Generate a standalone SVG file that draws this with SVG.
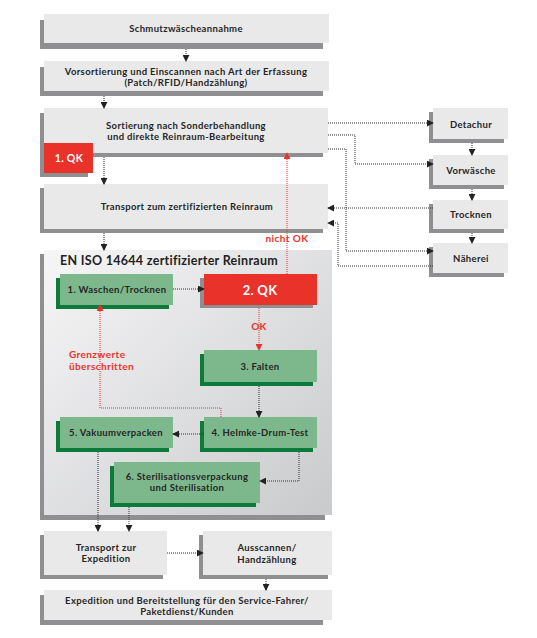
<svg xmlns="http://www.w3.org/2000/svg" width="537" height="638" viewBox="0 0 537 638">
<defs>
<style>
.bx{fill:#e9e9ea}
.sh{fill:#8f8f91}
.gn{fill:#7cb88c}
.gs{fill:#0b7a3b}
.rd{fill:#e8322a}
.t{font-family:Lato,"Liberation Sans",sans-serif;font-weight:700;font-size:9.5px;letter-spacing:0.35px;fill:#262626;text-anchor:middle}
.tw{font-family:Lato,"Liberation Sans",sans-serif;font-weight:700;fill:#fff;text-anchor:middle;letter-spacing:0.3px}
.tr{font-family:Lato,"Liberation Sans",sans-serif;font-weight:700;font-size:10px;letter-spacing:0.4px;fill:#e8322a}
.c{fill:none;stroke:#333;stroke-width:1;stroke-dasharray:1 1}
.cr{fill:none;stroke:#e8322a;stroke-width:1;stroke-dasharray:1 1}
</style>
<marker id="a" viewBox="0 0 8 8" refX="7" refY="4" markerWidth="7" markerHeight="7" markerUnits="userSpaceOnUse" orient="auto"><path d="M0,0 L8,4 L0,8 z" fill="#222"/></marker>
<marker id="ar" viewBox="0 0 8 8" refX="7" refY="4" markerWidth="7" markerHeight="7" markerUnits="userSpaceOnUse" orient="auto"><path d="M0,0 L8,4 L0,8 z" fill="#e8322a"/></marker>
<linearGradient id="g" x1="0" y1="0" x2="1" y2="1">
<stop offset="0" stop-color="#f6f6f7"/>
<stop offset="1" stop-color="#c9cacc"/>
</linearGradient>
</defs>

<g id="cleanroom">
<rect class="sh" x="40" y="254" width="285" height="266"/>
<rect x="44" y="250" width="288" height="265" fill="url(#g)"/>
<text x="60" y="265" style="font-family:Lato,'Liberation Sans',sans-serif;font-weight:700;font-size:12.5px;letter-spacing:0.3px;fill:#222">EN ISO 14644 zertifizierter Reinraum</text>
</g>

<g id="n-annahme">
<rect class="sh" x="40" y="20" width="283" height="29"/>
<rect class="bx" x="44" y="14" width="285" height="29"/>
<text class="t" x="186" y="32">Schmutzwäscheannahme</text>
</g>

<g id="n-vorsortierung">
<rect class="sh" x="40" y="67" width="283" height="29"/>
<rect class="bx" x="44" y="61" width="285" height="30"/>
<text class="t" x="186" y="74.5">Vorsortierung und Einscannen nach Art der Erfassung</text>
<text class="t" x="186" y="86">(Patch/RFID/Handzählung)</text>
</g>

<g id="n-sortierung">
<rect class="sh" x="40" y="113" width="283" height="44"/>
<rect class="bx" x="44" y="108" width="284" height="45"/>
<text class="t" x="186" y="128.5">Sortierung nach Sonderbehandlung</text>
<text class="t" x="186" y="140">und direkte Reinraum-Bearbeitung</text>
</g>

<g id="n-qk1">
<rect class="sh" x="40" y="147" width="48" height="30"/>
<rect class="rd" x="44" y="143" width="49" height="30"/>
<text class="tw" x="69" y="161.5" font-size="10.5">1. QK</text>
</g>

<g id="n-transport">
<rect class="sh" x="40" y="188" width="283" height="45"/>
<rect class="bx" x="44" y="184" width="284" height="45"/>
<text class="t" x="187" y="210">Transport zum zertifizierten Reinraum</text>
</g>

<g id="n-detachur">
<rect class="sh" x="429" y="112" width="75" height="31"/>
<rect class="bx" x="433" y="108" width="75" height="31"/>
<text class="t" x="471" y="128">Detachur</text>
</g>
<g id="n-vorwaesche">
<rect class="sh" x="429" y="159" width="75" height="30"/>
<rect class="bx" x="433" y="155" width="75" height="30"/>
<text class="t" x="471" y="174">Vorwäsche</text>
</g>
<g id="n-trocknen">
<rect class="sh" x="429" y="204" width="75" height="29"/>
<rect class="bx" x="433" y="200" width="75" height="29"/>
<text class="t" x="471" y="218">Trocknen</text>
</g>
<g id="n-naeherei">
<rect class="sh" x="429" y="247" width="75" height="30"/>
<rect class="bx" x="433" y="243" width="75" height="30"/>
<text class="t" x="471" y="262">Näherei</text>
</g>

<g id="n-waschen">
<rect class="gs" x="56" y="278" width="113" height="31"/>
<rect class="gn" x="60" y="274" width="113" height="31"/>
<text class="t" x="117" y="293">1. Waschen/Trocknen</text>
</g>
<g id="n-qk2">
<rect class="sh" x="200" y="278" width="113" height="30"/>
<rect class="rd" x="204" y="274" width="113" height="31"/>
<text class="tw" x="260" y="294.5" font-size="13">2. QK</text>
</g>
<g id="n-falten">
<rect class="gs" x="200" y="354" width="113" height="32"/>
<rect class="gn" x="204" y="350" width="113" height="32"/>
<text class="t" x="260" y="370">3. Falten</text>
</g>
<g id="n-helmke">
<rect class="gs" x="200" y="421" width="113" height="31"/>
<rect class="gn" x="204" y="417" width="113" height="31"/>
<text class="t" x="260" y="436">4. Helmke-Drum-Test</text>
</g>
<g id="n-vakuum">
<rect class="gs" x="56" y="421" width="113" height="31"/>
<rect class="gn" x="60" y="417" width="113" height="31"/>
<text class="t" x="116" y="436">5. Vakuumverpacken</text>
</g>
<g id="n-steril">
<rect class="gs" x="110" y="466" width="146" height="41"/>
<rect class="gn" x="114" y="462" width="146" height="41"/>
<text class="t" x="187" y="479.5">6. Sterilisationsverpackung</text>
<text class="t" x="187" y="491">und Sterilisation</text>
</g>

<g id="n-transport-exp">
<rect class="sh" x="40" y="535" width="123" height="44"/>
<rect class="bx" x="44" y="531" width="123" height="44"/>
<text class="t" x="106" y="550.5">Transport zur</text>
<text class="t" x="106" y="562">Expedition</text>
</g>
<g id="n-ausscannen">
<rect class="sh" x="199" y="535" width="129" height="44"/>
<rect class="bx" x="203" y="531" width="129" height="44"/>
<text class="t" x="267" y="551">Ausscannen/</text>
<text class="t" x="267" y="563">Handzählung</text>
</g>
<g id="n-expedition">
<rect class="sh" x="40" y="595" width="283" height="30"/>
<rect class="bx" x="44" y="590" width="288" height="30"/>
<text class="t" x="187" y="603.5">Expedition und Bereitstellung für den Service-Fahrer/</text>
<text class="t" x="187" y="615">Paketdienst/Kunden</text>
</g>

<g id="connectors">
<path class="c" d="M186,49 V61" marker-end="url(#a)"/>
<path class="c" d="M104,96 V108" marker-end="url(#a)"/>
<path class="c" d="M104,157 V184" marker-end="url(#a)"/>
<path class="c" d="M104,233 V250" marker-end="url(#a)"/>
<path class="c" d="M328,123 H433" marker-end="url(#a)"/>
<path class="c" d="M328,135 H355 V164 H433" marker-end="url(#a)"/>
<path class="c" d="M328,149 H346 V251 H433" marker-end="url(#a)"/>
<path class="c" d="M433,208 H328" marker-end="url(#a)"/>
<path class="c" d="M433,266 H338 V223 H328" marker-end="url(#a)"/>
<path class="c" d="M472,143 V155" marker-end="url(#a)"/>
<path class="c" d="M472,189 V200" marker-end="url(#a)"/>
<path class="c" d="M472,233 V243" marker-end="url(#a)"/>
<path class="c" d="M173,289 H204" marker-end="url(#a)"/>
<path class="cr" d="M287,274 V153" marker-end="url(#ar)"/>
<path class="cr" d="M259,308 V350" marker-end="url(#ar)"/>
<path class="c" d="M259,386 V417" marker-end="url(#a)"/>
<path class="c" d="M204,434 H173" marker-end="url(#a)"/>
<path class="c" d="M299,452 V481 H260" marker-end="url(#a)"/>
<path class="cr" d="M221,417 V408 H100 V305" marker-end="url(#ar)"/>
<path class="c" d="M98,452 V531" marker-end="url(#a)"/>
<path class="c" d="M129,507 V531" marker-end="url(#a)"/>
<path class="c" d="M167,553 H203" marker-end="url(#a)"/>
<path class="c" d="M266,579 V590" marker-end="url(#a)"/>
<text class="tr" x="287" y="242" text-anchor="middle">nicht OK</text>
<text class="tr" x="259" y="330" text-anchor="middle">OK</text>
<text class="tr" x="69" y="358">Grenzwerte</text>
<text class="tr" x="69" y="370">überschritten</text>
</g>
</svg>
